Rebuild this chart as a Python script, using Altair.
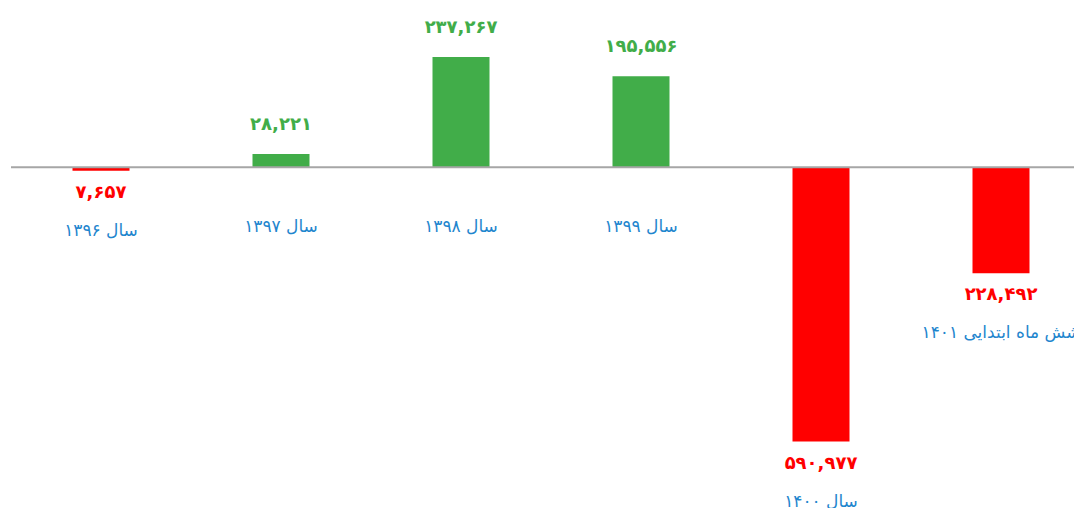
import altair as alt
import pandas as pd

categories = ["سال ۱۳۹۶", "سال ۱۳۹۷", "سال ۱۳۹۸", "سال ۱۳۹۹", "سال ۱۴۰۰", "شش ماه ابتدایی ۱۴۰۱"]
values = [-7657, 28221, 237267, 195556, -590977, -228492]

GREEN = "#41AD49"
RED = "#FF0000"
BLUE = "#1F86CE"
FONT = "DejaVu Sans"


def fa(n):
    s = f"{abs(n):,}"
    return s.translate(str.maketrans("0123456789", "۰۱۲۳۴۵۶۷۸۹"))


df = pd.DataFrame({
    "cat": categories,
    "value": values,
    "label": [fa(v) for v in values],
    "base": [min(v, 0) for v in values],
})

x = alt.X("cat:N", sort=categories, axis=None,
          scale=alt.Scale(paddingInner=0, paddingOuter=0, range=[0, 1080]))
yscale = alt.Scale(domain=[-734100, 360000], nice=False)

base = alt.Chart(df)

bars = base.mark_bar(size=57).encode(
    x=x,
    y=alt.Y("value:Q", scale=yscale, axis=None),
    color=alt.condition(alt.datum.value >= 0, alt.value(GREEN), alt.value(RED)),
)

rule = alt.Chart(pd.DataFrame({"zero": [0]})).mark_rule(color="#A6A6A6", strokeWidth=2).encode(
    y=alt.Y("zero:Q", scale=yscale, axis=None)
)

pos_text = base.transform_filter(alt.datum.value >= 0).mark_text(
    dy=-29, baseline="middle", align="center", font=FONT, fontSize=18, fontWeight="bold", color=GREEN
).encode(x=x, y=alt.Y("value:Q", scale=yscale, axis=None), text="label:N")

neg_text = base.transform_filter(alt.datum.value < 0).mark_text(
    dy=22, baseline="middle", align="center", font=FONT, fontSize=18, fontWeight="bold", color=RED
).encode(x=x, y=alt.Y("value:Q", scale=yscale, axis=None), text="label:N")

cat_text = base.mark_text(
    dy=60, baseline="middle", align="center", font=FONT, fontSize=17, color=BLUE
).encode(x=x, y=alt.Y("base:Q", scale=yscale, axis=None), text="cat:N")

chart = alt.layer(bars, rule, pos_text, neg_text, cat_text).properties(
    width=1063,
    height=508,
    padding={"left": 11, "top": 0, "right": 0, "bottom": 0},
    autosize=alt.AutoSizeParams(type="none"),
).configure_view(stroke=None)

chart.save("out.html", embed_options={"renderer": "svg", "actions": False})
